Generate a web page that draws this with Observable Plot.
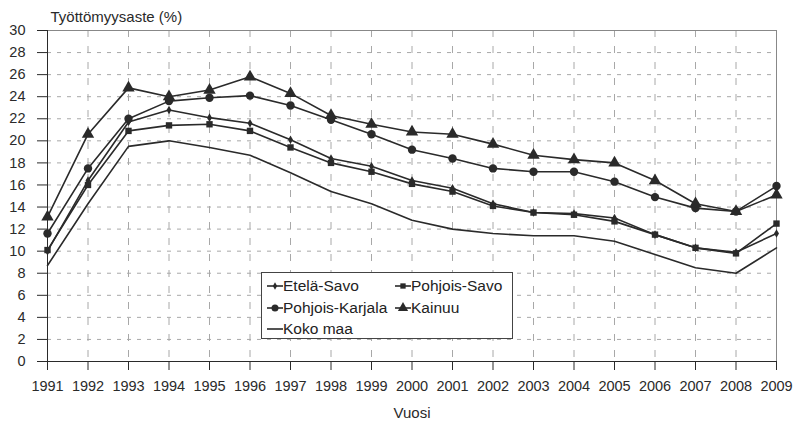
<!DOCTYPE html>
<html>
<head>
<meta charset="utf-8">
<script src="https://cdn.jsdelivr.net/npm/d3@7"></script>
<script src="https://cdn.jsdelivr.net/npm/@observablehq/plot@0.6"></script>
<style>
  body { margin: 0; background: #fff; font-family: "Liberation Sans", Arial, sans-serif; }
  #wrap { position: relative; width: 795px; height: 424px; overflow: hidden; }
  #legend { position: absolute; left: 261px; top: 272px; width: 250px; height: 65px;
    border: 1px solid #444; background: #fff; box-sizing: content-box;
    font-size: 15.5px; color: #222; padding: 0; }
  .item { position: absolute; display: flex; align-items: center; height: 20px; }
  .item svg { margin-right: 0px; }
</style>
</head>
<body>
<div id="wrap"></div>
<script>
const years = [1991,1992,1993,1994,1995,1996,1997,1998,1999,2000,2001,2002,2003,2004,2005,2006,2007,2008,2009];
const seriesNames = ["Etelä-Savo", "Pohjois-Savo", "Pohjois-Karjala", "Kainuu", "Koko maa"];
const etelaSavo      = [10.0,16.4,21.7,22.8,22.1,21.6,20.1,18.4,17.7,16.4,15.7,14.3,13.5,13.4,13.0,11.5,10.3,9.9,11.6];
const pohjoisSavo    = [10.1,16.0,20.9,21.4,21.5,20.9,19.4,18.0,17.2,16.1,15.4,14.1,13.5,13.3,12.7,11.5,10.3,9.8,12.5];
const pohjoisKarjala = [11.6,17.5,22.0,23.6,23.9,24.1,23.2,21.9,20.6,19.2,18.4,17.5,17.2,17.2,16.3,14.9,13.9,13.6,15.9];
const kainuu         = [13.1,20.6,24.8,24.0,24.6,25.8,24.3,22.3,21.5,20.8,20.6,19.7,18.7,18.3,18.0,16.4,14.3,13.6,15.1];
const kokoMaa        = [8.7,14.3,19.5,20.0,19.4,18.7,17.1,15.4,14.3,12.8,12.0,11.6,11.4,11.4,10.9,9.7,8.5,8.0,10.3];
const yTicks = [0,2,4,6,8,10,12,14,16,18,20,22,24,26,28,30];
const yLabel = "Työttömyysaste (%)";
const xLabel = "Vuosi";

const seriesValues = [etelaSavo, pohjoisSavo, pohjoisKarjala, kainuu, kokoMaa];
const symbols = ["diamond", "square", "circle", "triangle", null];
const radii = [2.6, 3.6, 4.2, 4.6, 0];
const legendRadii = [2.2, 3.0, 3.5, 3.8, 0];

const rows = [];
seriesNames.forEach((name, i) => {
  years.forEach((yr, j) => rows.push({series: name, year: yr, value: seriesValues[i][j], idx: i}));
});
const ink = "#2a2a2a";
const marks = [
  Plot.gridY(yTicks, {stroke: "#a8a8a8", strokeOpacity: 1, strokeDasharray: "4,6"}),
  Plot.gridX(years, {stroke: "#a8a8a8", strokeOpacity: 1, strokeDasharray: "7,9"}),
  Plot.frame({stroke: "#888"}),
  Plot.ruleY([0], {stroke: ink}),
  Plot.ruleX([years[0]], {stroke: ink}),
  Plot.axisY(yTicks, {tickSize: 10, tickPadding: 12, fontSize: 14.5, label: null, color: ink}),
  Plot.axisX(years, {tickSize: 9, tickPadding: 10, fontSize: 14.5, label: null, tickFormat: d => String(d), color: ink}),
  Plot.text([yLabel], {frameAnchor: "top-left", lineAnchor: "middle", dx: 3, dy: -13, textAnchor: "start", fontSize: 15, fill: ink}),
  Plot.text([xLabel], {frameAnchor: "bottom", lineAnchor: "middle", dy: 52, fontSize: 15, fill: ink})
];
seriesNames.forEach((name, i) => {
  const data = rows.filter(d => d.idx === i);
  marks.push(Plot.line(data, {x: "year", y: "value", stroke: ink, strokeWidth: 1.6}));
  if (symbols[i]) {
    marks.push(Plot.dot(data, {x: "year", y: "value", symbol: symbols[i], r: radii[i], fill: ink, stroke: "none"}));
  }
});

const chart = Plot.plot({
  width: 795,
  height: 424,
  marginLeft: 47,
  marginRight: 19,
  marginTop: 30,
  marginBottom: 63,
  style: {fontFamily: "'Liberation Sans', Arial, sans-serif", fontSize: "14px", background: "#fff"},
  x: {domain: [years[0], years[years.length - 1]], axis: null},
  y: {domain: [0, 30], axis: null},
  marks
});
const wrap = document.getElementById("wrap");
wrap.appendChild(chart);

// legend
const legend = document.createElement("div");
legend.id = "legend";
const pos = [[5, 3], [133, 3], [5, 24.5], [133, 24.5], [5, 46]];
const symbolPath = (s, r) => {
  if (!s) return "";
  const p = d3.symbol(s === "diamond" ? d3.symbolDiamond : s === "square" ? d3.symbolSquare : s === "circle" ? d3.symbolCircle : d3.symbolTriangle, Math.PI * r * r)();
  return `<path d="${p}" transform="translate(8,10)" fill="${ink}"/>`;
};
seriesNames.forEach((name, i) => {
  const it = document.createElement("div");
  it.className = "item";
  it.style.left = pos[i][0] + "px";
  it.style.top = pos[i][1] + "px";
  it.innerHTML = `<svg width="16" height="20"><line x1="0" x2="16" y1="10" y2="10" stroke="${ink}" stroke-width="1.6"/>${symbolPath(symbols[i], legendRadii[i])}</svg><span>${name}</span>`;
  legend.appendChild(it);
});
wrap.appendChild(legend);
</script>
</body>
</html>
